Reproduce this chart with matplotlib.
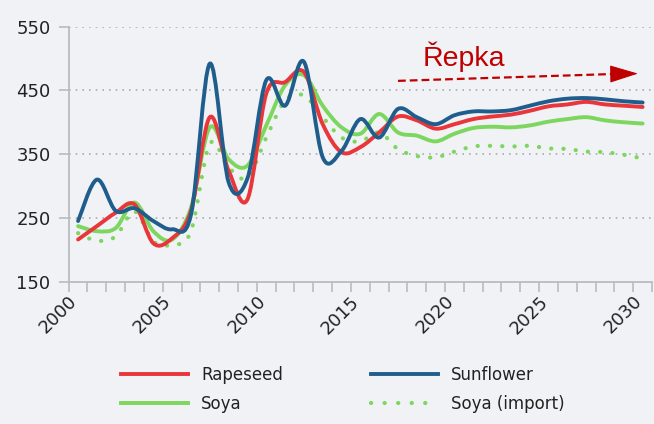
import matplotlib
matplotlib.use("Agg")
import matplotlib.pyplot as plt
import numpy as np
from matplotlib.path import Path
from matplotlib.patches import PathPatch, FancyArrowPatch
from matplotlib.lines import Line2D

BG = "#f0f2f5"
RED = "#e8363b"
BLUE = "#1f5e8c"
GREEN = "#7dd65e"
AXIS = "#b8bcc2"
ARROW_RED = "#c00000"

years = list(range(2000, 2031))

rapeseed = [216, 237, 258, 271, 210, 218, 261, 408, 324, 279, 445, 463, 479, 397, 353, 361,
            384, 409, 403, 390, 397, 405, 409, 412, 418, 425, 428, 432, 428, 426, 424]
sunflower = [245, 310, 261, 265, 245, 232, 255, 492, 306, 312, 466, 426, 495, 345, 355, 405,
             376, 421, 408, 397, 411, 417, 417, 419, 426, 433, 437, 438, 436, 433, 431]
soya = [237, 229, 234, 274, 229, 216, 266, 392, 342, 332, 395, 458, 474, 426, 392, 382,
        413, 384, 379, 370, 382, 391, 393, 392, 395, 401, 405, 408, 403, 400, 398]
soya_import = [226, 214, 221, 260, 213, 208, 229, 366, 329, 313, 376, 434, 442, 408, 376, 370,
               384, 358, 347, 345, 354, 362, 363, 362, 363, 359, 358, 354, 353, 349, 343]

y_ticks = [150, 250, 350, 450, 550]
x_labels = [2000, 2005, 2010, 2015, 2020, 2025, 2030]


def smooth_path(xs, ys):
    # Catmull-Rom style bezier, like a spreadsheet "smoothed line"
    p = np.column_stack([xs, ys]).astype(float)
    verts = [p[0]]
    codes = [Path.MOVETO]
    n = len(p)
    for i in range(n - 1):
        p0 = p[i - 1] if i > 0 else p[i]
        p1 = p[i]
        p2 = p[i + 1]
        p3 = p[i + 2] if i + 2 < n else p[i + 1]
        c1 = p1 + (p2 - p0) / 6.0
        c2 = p2 - (p3 - p1) / 6.0
        verts += [c1, c2, p2]
        codes += [Path.CURVE4] * 3
    return Path(verts, codes)


plt.rcParams["font.family"] = "DejaVu Sans"

fig = plt.figure(figsize=(6.54, 4.24), dpi=100, facecolor=BG)
ax = fig.add_axes([0.105, 0.336, 0.892, 0.601])
ax.set_facecolor(BG)

series = [
    ("Rapeseed", rapeseed, RED, "-"),
    ("Sunflower", sunflower, BLUE, "-"),
    ("Soya", soya, GREEN, "-"),
    ("Soya (import)", soya_import, GREEN, (0, (0.05, 2.9))),
]
# draw order: dotted first, then soya, red, blue
for name, vals, color, ls in [series[3], series[2], series[0], series[1]]:
    patch = PathPatch(smooth_path(years, vals), facecolor="none", edgecolor=color,
                      linewidth=2.8 if ls == "-" else 3.0, linestyle=ls,
                      capstyle="round", joinstyle="round", zorder=3)
    ax.add_patch(patch)

ax.set_xlim(1999.5, 2030.5)
ax.set_ylim(150, 550)

ax.set_yticks(y_ticks)
ax.set_yticklabels([str(v) for v in y_ticks], fontsize=13, color="#222222")
ax.set_xticks(np.arange(1999.5, 2031, 1.0))
ax.set_xticklabels([])
ax.tick_params(axis="x", length=7, width=1.2, color=AXIS, direction="out")
ax.tick_params(axis="y", length=7, width=1.2, color=AXIS, direction="out", pad=6)

for yv in y_ticks[1:]:
    ax.axhline(yv, color="#a9adb3", linestyle=(0, (1, 3)), linewidth=1.2, zorder=1)

for s in ("top", "right"):
    ax.spines[s].set_visible(False)
for s in ("left", "bottom"):
    ax.spines[s].set_color(AXIS)
    ax.spines[s].set_linewidth(1.3)
ax.spines["left"].set_bounds(150, 550)

for yr in x_labels:
    ax.text(yr + 0.15, 150 - 17, str(yr), rotation=45,
            ha="right", va="top", fontsize=13, color="#222222")

# annotation: dashed shaft + solid head
ax.text(2018.3, 489, "Řepka", fontsize=20.5, color=ARROW_RED,
        family="Liberation Sans", ha="left", va="baseline")
ax.plot([2017.0, 2028.6], [465, 475.9], color=ARROW_RED, linewidth=1.6,
        linestyle=(0, (3.5, 1.8)), zorder=4)
head = FancyArrowPatch((2028.4, 475.8), (2029.9, 476.5),
                       arrowstyle="-|>,head_length=1.3,head_width=0.4",
                       mutation_scale=14, linewidth=0.8, color=ARROW_RED, zorder=4)
ax.add_patch(head)

handles = [
    Line2D([], [], color=RED, linewidth=2.8),
    Line2D([], [], color=GREEN, linewidth=2.8),
    Line2D([], [], color=BLUE, linewidth=2.8),
    Line2D([], [], color=GREEN, linewidth=3.0, linestyle=(0, (0.05, 3.2)), dash_capstyle="round"),
]
labels = ["Rapeseed", "Soya", "Sunflower", "Soya (import)"]
leg = fig.legend(handles, labels, ncol=2, loc="upper left", bbox_to_anchor=(0.175, 0.152),
                 frameon=False, fontsize=12, handlelength=4.0, handletextpad=0.8,
                 columnspacing=5.3, labelspacing=0.62, borderaxespad=0)
for t in leg.get_texts():
    t.set_color("#222222")

fig.savefig("out.png", dpi=100, facecolor=BG)
